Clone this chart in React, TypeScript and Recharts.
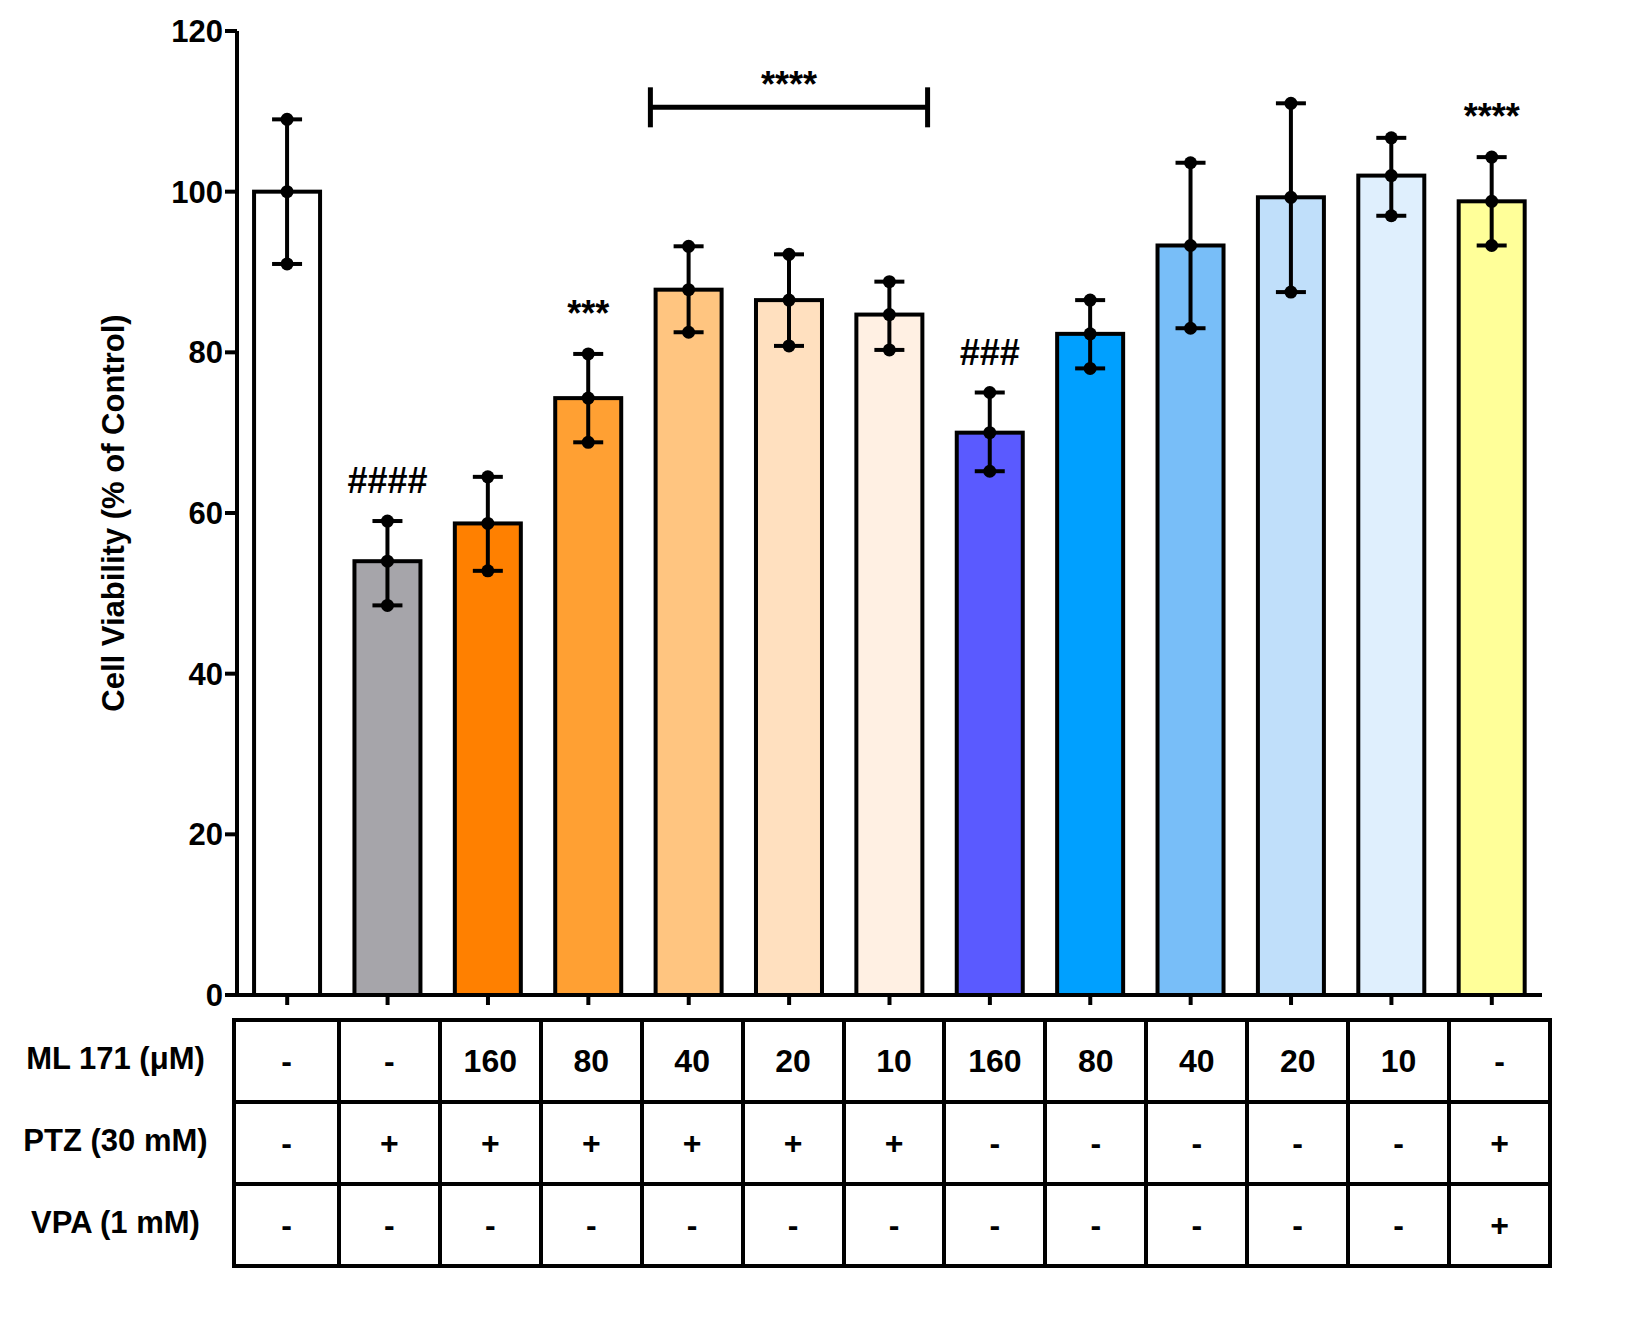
import React from "react";
import { BarChart, Bar, XAxis, YAxis, Cell, LabelList } from "recharts";

const groups = ["1", "2", "3", "4", "5", "6", "7", "8", "9", "10", "11", "12", "13"];
const means = [100, 54, 58.7, 74.3, 87.8, 86.5, 84.7, 70, 82.3, 93.3, 99.3, 102, 98.8];
const highs = [109, 59, 64.5, 79.8, 93.2, 92.2, 88.8, 75, 86.5, 103.6, 111, 106.7, 104.3];
const lows = [91, 48.5, 52.8, 68.8, 82.5, 80.8, 80.3, 65.2, 78, 83, 87.5, 97, 93.3];
const marks = ["", "####", "", "***", "", "", "", "###", "", "", "", "", "****"];
const colors = ["#ffffff", "#a6a5aa", "#ff8000", "#ffa033", "#ffc580", "#ffe0bf", "#fff0e3",
  "#5a5aff", "#00a0ff", "#78bef8", "#c0dffa", "#dfeffd", "#ffff99"];
const ml171 = ["-", "-", "160", "80", "40", "20", "10", "160", "80", "40", "20", "10", "-"];
const ptz = ["-", "+", "+", "+", "+", "+", "+", "-", "-", "-", "-", "-", "+"];
const vpa = ["-", "-", "-", "-", "-", "-", "-", "-", "-", "-", "-", "-", "+"];
const rowLabels = ["ML 171 (\u03bcM)", "PTZ (30 mM)", "VPA (1 mM)"];

const data = groups.map((g, i) => ({ g, mean: means[i], hi: highs[i], lo: lows[i], mark: marks[i] }));

const font = "Arial, 'Liberation Sans', sans-serif";

function BarShape(props: any) {
  const { x, y, width, height, payload, fill } = props;
  const base = y + height;
  const k = height / payload.mean;
  const py = (v: number) => base - v * k;
  const cx = x + width / 2;
  const yh = py(payload.hi), yl = py(payload.lo);
  return (
    <g>
      <rect x={x} y={y} width={width} height={height} fill={fill} stroke="#000" strokeWidth={4} />
      <line x1={cx} x2={cx} y1={yh} y2={yl} stroke="#000" strokeWidth={4} />
      <line x1={cx - 15} x2={cx + 15} y1={yh} y2={yh} stroke="#000" strokeWidth={4} />
      <line x1={cx - 15} x2={cx + 15} y1={yl} y2={yl} stroke="#000" strokeWidth={4} />
      {[payload.hi, payload.mean, payload.lo].map((v, i) => (
        <circle key={i} cx={cx} cy={py(v)} r={6.5} fill="#000" />
      ))}
    </g>
  );
}

function MarkLabel(props: any) {
  const { x, y, width, height, index } = props;
  const d = data[index];
  const k = height / d.mean;
  const base = y + height;
  const cx = x + width / 2;
  const out: any[] = [];
  if (d.mark) {
    out.push(
      <text key="m" x={cx} y={base - d.hi * k - 28} textAnchor="middle" fontSize={36} fontWeight="bold" fontFamily={font}>
        {d.mark}
      </text>
    );
  }
  if (index === 5) {
    const yb = base - 110.5 * k;
    const half = width * 2.1;
    out.push(
      <g key="b">
        <line x1={cx - half} x2={cx + half} y1={yb} y2={yb} stroke="#000" strokeWidth={5} />
        <line x1={cx - half} x2={cx - half} y1={yb - 20} y2={yb + 20} stroke="#000" strokeWidth={5} />
        <line x1={cx + half} x2={cx + half} y1={yb - 20} y2={yb + 20} stroke="#000" strokeWidth={5} />
        <text x={cx} y={yb - 10} textAnchor="middle" fontSize={36} fontWeight="bold" fontFamily={font}>****</text>
      </g>
    );
  }
  return <g>{out}</g>;
}

const cellStyle: React.CSSProperties = {
  display: "flex", alignItems: "center", justifyContent: "center",
  fontSize: 32, fontWeight: "bold", fontFamily: font,
};

export default function App() {
  const rows = [ml171, ptz, vpa];
  return (
    <div style={{ position: "relative", width: 1600, height: 1300 }}>
      <BarChart width={1560} height={1010} data={data} barCategoryGap="17%"
        margin={{ top: 23, right: 26, left: 0, bottom: 0 }}>
        <XAxis dataKey="g" height={23} tickFormatter={() => ""} tickSize={10}
          axisLine={{ stroke: "#000", strokeWidth: 4 }} tickLine={{ stroke: "#000", strokeWidth: 4 }} />
        <YAxis width={229} domain={[0, 120]} ticks={[0, 20, 40, 60, 80, 100, 120]} tickSize={12}
          axisLine={{ stroke: "#000", strokeWidth: 4 }} tickLine={{ stroke: "#000", strokeWidth: 4 }}
          tick={{ fill: "#000", fontSize: 31, fontWeight: "bold", fontFamily: font }}
          label={{ value: "Cell Viability (% of Control)", angle: -90, position: "insideLeft", offset: 105,
            style: { fill: "#000", fontSize: 31, fontWeight: "bold", fontFamily: font, textAnchor: "middle" } }} />
        <Bar dataKey="mean" shape={<BarShape />} isAnimationActive={false}>
          {data.map((d, i) => <Cell key={d.g} fill={colors[i]} />)}
          <LabelList dataKey="mean" content={<MarkLabel />} />
        </Bar>
      </BarChart>
      <div style={{ position: "absolute", left: 224, top: 1010, width: 1320, height: 250,
        border: "4px solid #000", boxSizing: "border-box", display: "flex", flexDirection: "column" }}>
        {rows.map((r, ri) => (
          <div key={ri} style={{ flex: 1, display: "grid", gridTemplateColumns: "repeat(13, 1fr)",
            borderTop: ri ? "4px solid #000" : "none" }}>
            {r.map((v, ci) => (
              <div key={ci} style={{ ...cellStyle, borderLeft: ci ? "4px solid #000" : "none" }}>{v}</div>
            ))}
          </div>
        ))}
      </div>
      {rowLabels.map((l, i) => (
        <div key={l} style={{ position: "absolute", left: 0, width: 215, top: 1010 + i * 82, height: 82,
          display: "flex", alignItems: "center", justifyContent: "center",
          fontSize: 31, fontWeight: "bold", fontFamily: font }}>{l}</div>
      ))}
    </div>
  );
}
